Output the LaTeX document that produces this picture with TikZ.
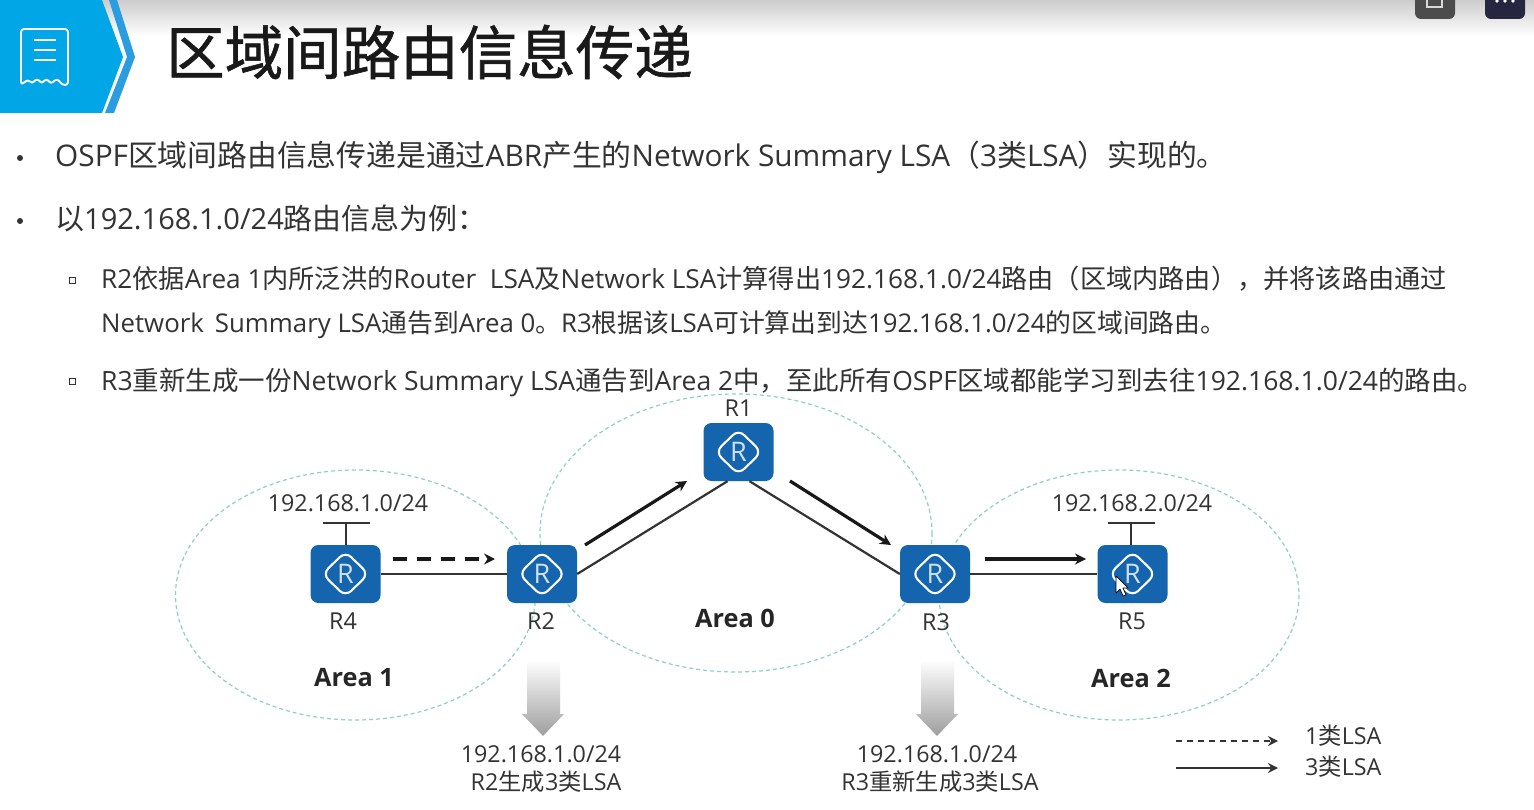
\documentclass[tikz,border=0pt]{standalone}
\usepackage{fontspec}
\setmainfont{Open Sans}
\newfontfamily\cjk{Noto Sans CJK SC}
\newfontfamily\cjktitle[FakeBold=1.0]{Noto Sans CJK SC}
\newcommand{\C}[1]{{\cjk #1}}
\usetikzlibrary{arrows.meta,calc}
\definecolor{txt}{HTML}{333333}
\definecolor{routerblue}{HTML}{1464AE}
\definecolor{zone}{HTML}{8FD0C6}
\definecolor{skyblue}{HTML}{00A6E6}
\definecolor{chev}{HTML}{2A9CE0}
\tikzset{
  router/.style={draw=none,fill=routerblue,rounded corners=8pt,minimum width=70pt,minimum height=58pt,inner sep=0pt,
    text=white!80!routerblue,font=\fontsize{27}{27}\selectfont,
    path picture={\draw[white,line width=2.1pt,line join=round]
      ($(path picture bounding box.center)+(-23,0)$) -- ++(23,-22.5) -- ++(23,22.5) -- ++(-23,22.5) -- cycle;}},
  zonering/.style={draw=zone,line width=1.2pt,dash pattern=on 4pt off 3pt},
  linkline/.style={draw=txt,line width=2.2pt},
  lsaarrow/.style={draw=black!90,line width=3.2pt,-{Stealth[length=11pt,width=11pt]}},
  lsadash/.style={lsaarrow,dash pattern=on 14pt off 10pt},
  legendline/.style={draw=black!80,line width=1.6pt,-{Stealth[length=10pt,width=10pt]}},
  legenddash/.style={legendline,dash pattern=on 6pt off 5pt},
  lbl/.style={inner sep=0pt,text=txt,font=\fontsize{23.3}{23.3}\selectfont},
  arealbl/.style={inner sep=0pt,text=black!85,font=\fontsize{25.3}{25.3}\selectfont\bfseries},
  bodyA/.style={anchor=base west,inner sep=0pt,text=txt,font=\fontsize{29.8}{30}\selectfont},
  bodyB/.style={anchor=base west,inner sep=0pt,text=txt,font=\fontsize{26.2}{27}\selectfont},
  dropfill/.style={draw=none,top color=white,bottom color=black!38},
  subnet/.style={draw=txt,line width=1.8pt},
}
\begin{document}
\begin{tikzpicture}[x=1pt,y=-1pt]
\useasboundingbox (0,0) rectangle (1534,810);
\fill[white] (0,0) rectangle (1534,810);
% top band
\shade[top color=black!20,bottom color=white] (0,0) rectangle (1534,36);
% header icon
\fill[skyblue] (0,0) -- (102,0) -- (123,57) -- (102,113) -- (0,113) -- cycle;
\fill[chev] (109,0) -- (117,0) -- (135,57) -- (114,113) -- (105,113) -- (127,57) -- cycle;
\draw[white,line width=1.9pt,rounded corners=3pt,line join=round]
  (21,29) -- (68,29) -- (68,85) -- (62,85) .. controls (58,79) and (56,79) .. (51,84) .. controls (47,79) and (45,79) .. (42,84) .. controls (38,79) and (36,79) .. (32,84) .. controls (29,80) and (27,80) .. (21,85) -- cycle;
\draw[white,line width=1.9pt] (34,40) -- (56,40) (34,50) -- (56,50) (34,60) -- (56,60);
% top-right buttons
\fill[black!70!white,rounded corners=6pt] (1415,-10) rectangle (1455,19);
\draw[white!85!black,line width=1.3pt] (1427,-2) rectangle (1442,7);
\fill[black!85!blue!70!gray,rounded corners=6pt] (1485,-10) rectangle (1525,19);
\foreach \dx in {1497,1505,1513} \fill[white] (\dx,1) circle (1.8);
% title
\node[anchor=base west,inner sep=0pt,text=black!90,font=\fontsize{58.5}{59}\cjktitle] (title) at (166,74.5) {区域间路由信息传递};
% body
\fill[txt] (20,158) circle (3);
\fill[txt] (20,221) circle (3);
\draw[txt,line width=.9pt] (69,277) rectangle (75,283);
\draw[txt,line width=.9pt] (69,378) rectangle (75,384);
\node[bodyA] (b1) at (55,167) {OSPF\C{区域间路由信息传递是通过}ABR\C{产生的}Network Summary LSA\C{（}3\C{类}LSA\C{）实现的。}};
\node[bodyA,font=\fontsize{29}{30}\selectfont] (b2) at (55,230) {\C{以}192.168.1.0/24\C{路由信息为例：}};
\node[bodyB] (b3) at (101,289) {R2\C{依据}Area 1\C{内所泛洪的}Router\ \ LSA\C{及}Network LSA\C{计算得出}192.168.1.0/24\C{路由（区域内路由），并将该路由通过}};
\node[bodyB,font=\fontsize{25.8}{27}\selectfont] (b4) at (101,333) {Network\ \,Summary LSA\C{通告到}Area 0\C{。}R3\C{根据该}LSA\C{可计算出到达}192.168.1.0/24\C{的区域间路由。}};
\node[bodyB,font=\fontsize{26.5}{27}\selectfont] (b5) at (101,390) {R3\C{重新生成一份}Network Summary LSA\C{通告到}Area 2\C{中，至此所有}OSPF\C{区域都能学习到去往}192.168.1.0/24\C{的路由。}};
% zones
\draw[zonering] (355.5,595) ellipse [x radius=180,y radius=125];
\draw[zonering] (736,533) ellipse [x radius=196,y radius=139];
\draw[zonering] (1119,595) ellipse [x radius=180,y radius=125];
% routers
\node[router] (R1) at (738.5,452) {R};
\node[router] (R2) at (542,574) {R};
\node[router] (R3) at (935,574) {R};
\node[router] (R4) at (345.5,574) {R};
\node[router] (R5) at (1132.5,574) {R};
% links
\draw[linkline] (R4.east) -- (R2.west);
\draw[linkline] (R2.east) -- ([xshift=-11pt]R1.south);
\draw[linkline] ([xshift=11pt]R1.south) -- (R3.west);
\draw[linkline] (R3.east) -- (R5.west);
% subnet stubs
\coordinate (s4) at (346,523);
\coordinate (s4a) at (323,523);
\coordinate (s4b) at (370,523);
\coordinate (s5) at (1131,523);
\coordinate (s5a) at (1108,523);
\coordinate (s5b) at (1155,523);
\draw[subnet] (s4) -- (s4 |- R4.north);
\draw[subnet] (s4a) -- (s4b);
\draw[subnet] (s5) -- (s5 |- R5.north);
\draw[subnet] (s5a) -- (s5b);
% LSA arrows
\coordinate (a1s) at (393,559); \coordinate (a1e) at (495,559);
\coordinate (a2s) at (585,545); \coordinate (a2e) at (687,481);
\coordinate (a3s) at (790,481); \coordinate (a3e) at (891,545);
\coordinate (a4s) at (985,559); \coordinate (a4e) at (1086,559);
\draw[lsadash] (a1s) -- (a1e);
\draw[lsaarrow] (a2s) -- (a2e);
\draw[lsaarrow] (a3s) -- (a3e);
\draw[lsaarrow] (a4s) -- (a4e);
% labels
\node[lbl] (lr1) at (738.5,408) {R1};
\node[lbl] (lr4) at (343,621) {R4};
\node[lbl] (lr2) at (541,621) {R2};
\node[lbl] (lr3) at (936,622) {R3};
\node[lbl] (lr5) at (1132,621) {R5};
\node[lbl] (n1) at (348,503.5) {192.168.1.0/24};
\node[lbl] (n2) at (1132,503.5) {192.168.2.0/24};
\node[arealbl] (a1) at (354,678) {Area 1};
\node[arealbl] (a0) at (735,618) {Area 0};
\node[arealbl] (a2) at (1131,678) {Area 2};
% drop arrows
\shade[dropfill] (527,660) -- (560,660) -- (560,714) -- (564,714) -- (543,736) -- (522,714) -- (527,714) -- cycle;
\shade[dropfill] (921,660) -- (954,660) -- (954,714) -- (958,714) -- (937,736) -- (916,714) -- (921,714) -- cycle;
\node[lbl] (d1) at (541,754.5) {192.168.1.0/24};
\node[lbl] (d1b) at (546,782) {R2\C{生成}3\C{类}LSA};
\node[lbl] (d2) at (937,754.5) {192.168.1.0/24};
\node[lbl] (d2b) at (940,782) {R3\C{重新生成}3\C{类}LSA};
% legend
\coordinate (l1s) at (1176,741); \coordinate (l1e) at (1278,741);
\coordinate (l2s) at (1176,768); \coordinate (l2e) at (1278,768);
\draw[legenddash] (l1s) -- (l1e);
\draw[legendline] (l2s) -- (l2e);
\node[lbl,anchor=west] (k1) at (1305,736) {1\C{类}LSA};
\node[lbl,anchor=west] (k2) at (1305,767) {3\C{类}LSA};
% pointer
\draw[black,fill=white,line width=.7pt,line join=round] (1116,576) -- (1116,593) -- (1120,589) -- (1123,596) -- (1126,595) -- (1123,588) -- (1128,588) -- cycle;
\end{tikzpicture}
\end{document}
